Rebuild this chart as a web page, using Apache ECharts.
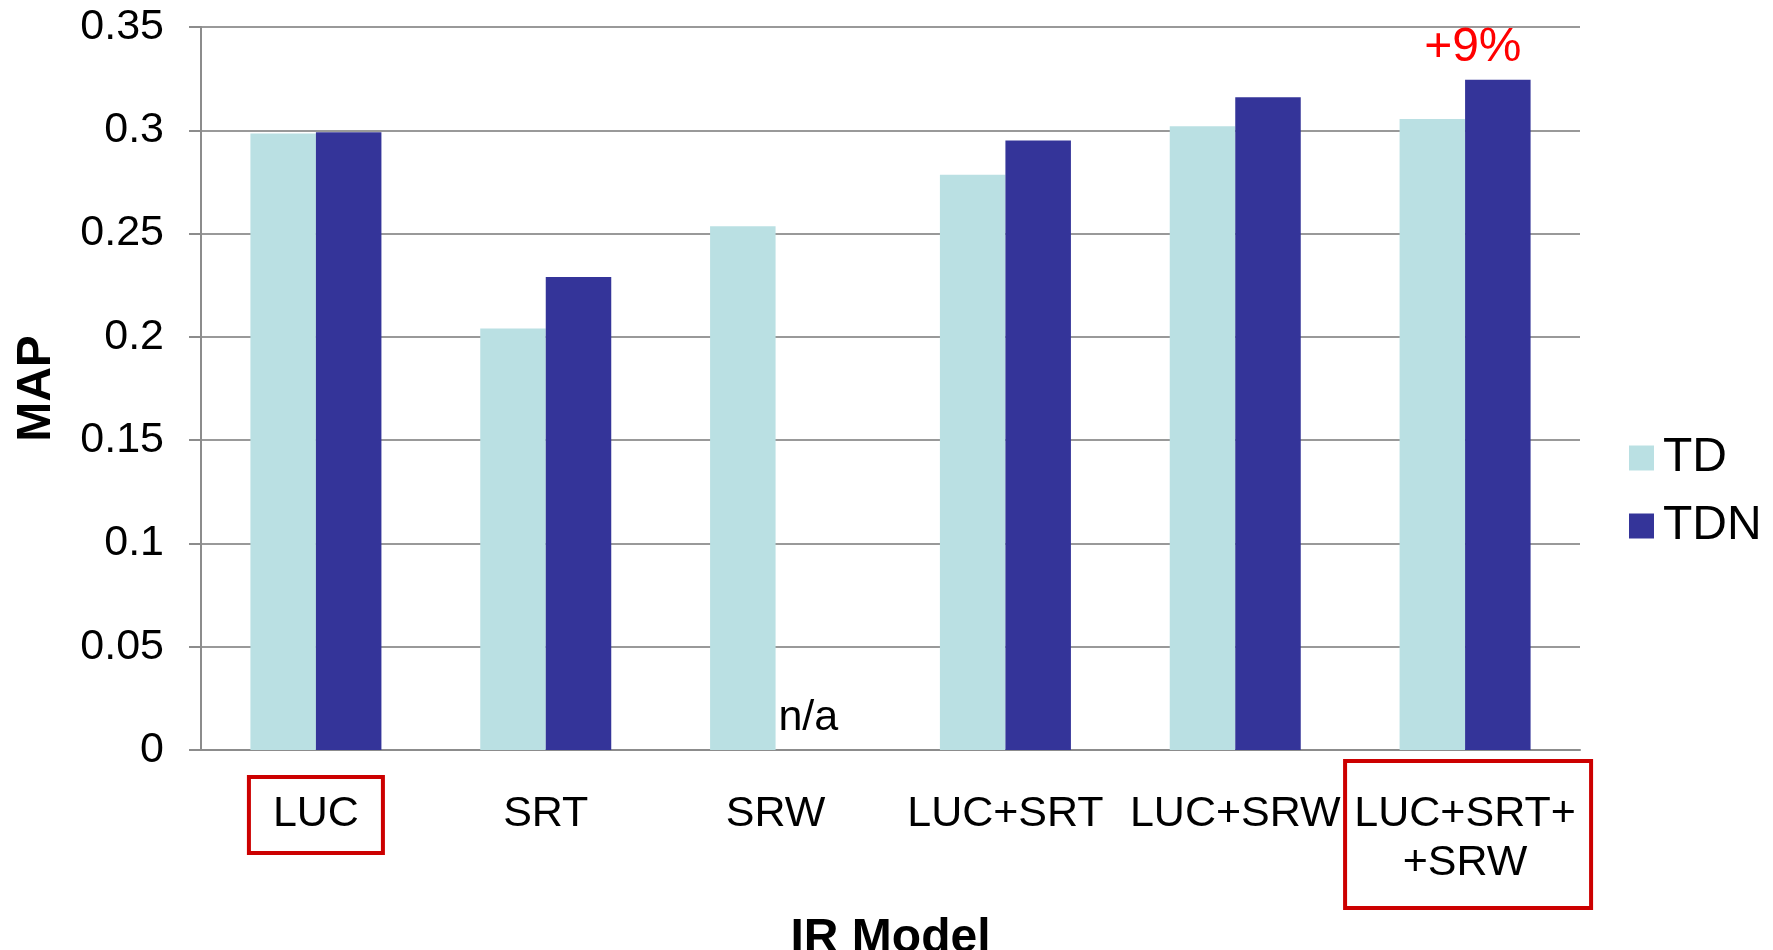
<!DOCTYPE html>
<html>
<head>
<meta charset="utf-8">
<script src="https://cdn.jsdelivr.net/npm/echarts@6/dist/echarts.min.js"></script>
<style>
  html, body { margin: 0; padding: 0; background: #fff; }
  #chart { width: 1773px; height: 950px; }
</style>
</head>
<body>
<div id="chart"></div>
<script>
(function() {
    'use strict';

    var categories = ['LUC', 'SRT', 'SRW', 'LUC+SRT', 'LUC+SRW', 'LUC+SRT+\n+SRW'];
    var tdValues = [0.2985, 0.204, 0.2535, 0.2785, 0.302, 0.3055];
    var tdnValues = [0.299, 0.229, null, 0.295, 0.316, 0.3245];
    var seriesNames = ['TD', 'TDN'];
    var yMin = 0, yMax = 0.35, yStep = 0.05;

    var font = "'Liberation Sans', Arial, sans-serif";
    var grey = '#8c8c8c';

    // missing TDN value is shown as n/a, the last one carries the +9% note
    var tdnData = tdnValues.map(function(v, i) {
        if (v === null) {
            return {
                value: 0,
                label: { show: true, formatter: 'n/a', position: 'top', distance: 10,
                         color: '#000', fontSize: 43, fontFamily: font }
            };
        }
        if (i === tdnValues.length - 1) {
            return {
                value: v,
                label: { show: true, formatter: '+9%', position: 'top', distance: 8,
                         color: '#ff0000', fontSize: 48, fontFamily: font, offset: [-25, 0] }
            };
        }
        return v;
    });

    var option = {
        animation: false,
        backgroundColor: '#fff',
        textStyle: { fontFamily: font },
        grid: { left: 201, right: 193, top: 27, bottom: 200, containLabel: false, outerBoundsMode: 'none' },
        legend: {
            data: seriesNames,
            orient: 'vertical',
            left: 1624,
            top: 429,
            icon: 'rect',
            itemWidth: 25,
            itemHeight: 25,
            itemGap: 20,
            textStyle: { fontSize: 48, color: '#000', fontFamily: font, padding: [0, 0, 0, 4] }
        },
        xAxis: {
            type: 'category',
            data: categories,
            name: 'IR Model',
            nameLocation: 'middle',
            nameGap: 165,
            nameTextStyle: { fontSize: 48, fontWeight: 'bold', color: '#000', fontFamily: font },
            axisLine: { lineStyle: { color: grey, width: 2 } },
            axisTick: { length: 12, lineStyle: { color: grey, width: 2 } },
            axisLabel: { interval: 0, fontSize: 43, lineHeight: 49, margin: 40, color: '#000', fontFamily: font }
        },
        yAxis: {
            type: 'value',
            min: yMin,
            max: yMax,
            interval: yStep,
            name: 'MAP',
            nameLocation: 'middle',
            nameGap: 140,
            nameTextStyle: { fontSize: 48, fontWeight: 'bold', color: '#000', fontFamily: font },
            axisLine: { show: true, lineStyle: { color: grey, width: 2 } },
            axisTick: { show: true, length: 12, lineStyle: { color: grey, width: 2 } },
            axisLabel: { fontSize: 43, margin: 37, color: '#000', fontFamily: font },
            splitLine: { lineStyle: { color: '#999', width: 2 } }
        },
        series: [
            {
                name: seriesNames[0],
                type: 'bar',
                data: tdValues,
                barGap: '0%',
                barCategoryGap: '43%',
                itemStyle: { color: '#bae0e3' }
            },
            {
                name: seriesNames[1],
                type: 'bar',
                data: tdnData,
                barGap: '0%',
                barCategoryGap: '43%',
                itemStyle: { color: '#343499' }
            }
        ]
    };

    var chart = echarts.init(document.getElementById('chart'));
    chart.setOption(option);

    // red frames around the LUC and LUC+SRT+SRW labels
    var y0 = chart.convertToPixel({ yAxisIndex: 0 }, 0);
    var xLuc = chart.convertToPixel({ xAxisIndex: 0 }, categories[0]);
    var xAll = chart.convertToPixel({ xAxisIndex: 0 }, categories[categories.length - 1]);
    var frameStyle = { fill: 'none', stroke: '#cc0000', lineWidth: 4 };
    chart.setOption({
        graphic: [
            { type: 'rect', z: 100, shape: { x: xLuc - 67, y: y0 + 27, width: 134, height: 76 }, style: frameStyle },
            { type: 'rect', z: 100, shape: { x: xAll - 120, y: y0 + 11, width: 246, height: 147 }, style: frameStyle }
        ]
    });
})();
</script>
</body>
</html>
